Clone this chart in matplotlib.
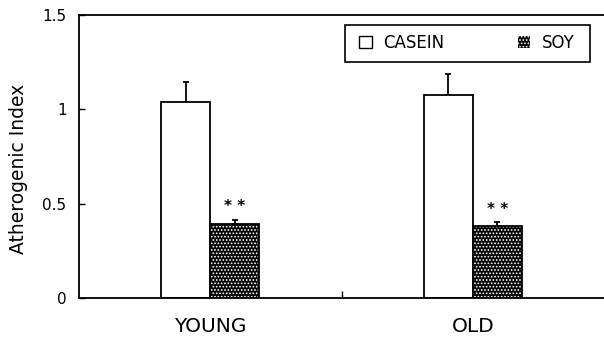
import matplotlib
matplotlib.use("Agg")
import matplotlib.pyplot as plt
from matplotlib.patches import Patch, Rectangle
import numpy as np

plt.rcParams['font.family'] = ['DejaVu Sans']
plt.rcParams['hatch.linewidth'] = 0.8

groups = ["YOUNG", "OLD"]
series = ["CASEIN", "SOY"]
casein = [1.04, 1.078]
casein_err = [0.105, 0.107]
soy = [0.39, 0.381]
soy_err = [0.026, 0.02]
sig = ["* *", "* *"]
yticks = [0, 0.5, 1, 1.5]
ytick_labels = ["0", "0.5", "1", "1.5"]

fig = plt.figure(figsize=(6.04, 3.38), dpi=100)
ax = fig.add_axes([0.1308, 0.1183, 0.8692, 0.8373])

centers = np.array([0.5, 1.5])
w = 0.187
ax.bar(centers - w / 2, casein, w, color='white', edgecolor='black', linewidth=1.3, zorder=2)
ax.bar(centers + w / 2, soy, w, color='black', edgecolor='white', hatch='.....', linewidth=0, zorder=2)
ax.bar(centers + w / 2, soy, w, fill=False, edgecolor='black', linewidth=1.3, zorder=3)
ax.errorbar(centers - w / 2, casein, yerr=[np.zeros(2), casein_err], fmt='none',
            ecolor='black', elinewidth=1.3, capsize=2.5, capthick=1.3, zorder=1)
ax.errorbar(centers + w / 2, soy, yerr=[np.zeros(2), soy_err], fmt='none',
            ecolor='black', elinewidth=1.3, capsize=2.5, capthick=1.3, zorder=1)
for c, v, e, s in zip(centers, soy, soy_err, sig):
    ax.text(c + w / 2, v + e + 0.03, s, ha='center', va='bottom', fontsize=11, fontweight='bold')

ax.set_xlim(0, 2)
ax.set_ylim(0, 1.5)
ax.set_yticks(yticks)
ax.set_yticklabels(ytick_labels, fontsize=11)
ax.tick_params(axis='y', direction='in', length=4, width=1, pad=9)
ax.set_xticks(centers)
ax.set_xticklabels(groups, fontsize=14.5)
ax.set_xticks([1.0], minor=True)
ax.tick_params(axis='x', which='major', length=0, pad=14)
ax.tick_params(axis='x', which='minor', direction='in', length=5, width=1)
ax.set_ylabel("Atherogenic Index", fontsize=13.5, va='center')
ax.yaxis.set_label_coords(-0.116, 0.4576)
for sp in ['left', 'top', 'bottom']:
    ax.spines[sp].set_linewidth(1.3)
ax.spines['right'].set_visible(False)

# legend frame
fig.patches.append(Rectangle((345 / 604, 1 - 62 / 338), 245 / 604, 37 / 338,
                             transform=fig.transFigure, fill=False, edgecolor='black',
                             linewidth=1.2, zorder=5))
handles = [Patch(facecolor='white', edgecolor='black', linewidth=1),
           Patch(facecolor='black', edgecolor='white', hatch='.....', linewidth=0)]
leg = ax.legend(handles, series, loc='center left', ncol=2,
                bbox_to_anchor=(359 / 604, 1 - 43 / 338),
                bbox_transform=fig.transFigure, fontsize=12, frameon=False,
                handlelength=0.75, handleheight=0.75, handletextpad=0.7,
                columnspacing=4.4, borderaxespad=0, borderpad=0)

fig.savefig("out.png", dpi=100)
